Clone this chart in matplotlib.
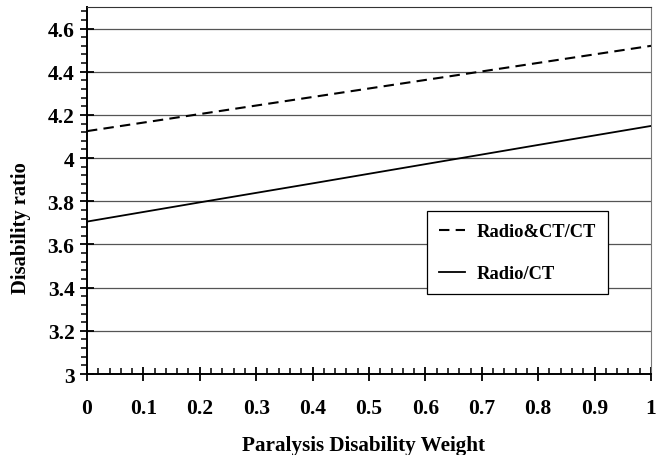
import matplotlib.pyplot as plt
from matplotlib.ticker import MultipleLocator

# Dados
weight = [0.0, 0.2, 0.4, 0.6, 0.8, 1.0]
radio_ct_ct = [4.125, 4.204, 4.283, 4.362, 4.441, 4.52]
radio_ct = [3.706, 3.795, 3.883, 3.972, 4.061, 4.149]

x_ticks = [0, 0.1, 0.2, 0.3, 0.4, 0.5, 0.6, 0.7, 0.8, 0.9, 1]
x_labels = ['0', '0.1', '0.2', '0.3', '0.4', '0.5', '0.6', '0.7', '0.8', '0.9', '1']
y_ticks = [3, 3.2, 3.4, 3.6, 3.8, 4, 4.2, 4.4, 4.6]
y_labels = ['3', '3.2', '3.4', '3.6', '3.8', '4', '4.2', '4.4', '4.6']

plt.rcParams['font.family'] = ['Liberation Serif', 'DejaVu Serif']
plt.rcParams['font.weight'] = 'bold'

fig = plt.figure(figsize=(6.67, 4.56), dpi=100)
ax = fig.add_axes([0.1304, 0.1776, 0.8456, 0.8049])

for y in y_ticks[1:]:
    ax.axhline(y, color='#555555', lw=0.9, zorder=1)

ax.plot(weight, radio_ct_ct, color='black', lw=1.5, ls=(0, (5, 3)), label='Radio&CT/CT', zorder=3)
ax.plot(weight, radio_ct, color='black', lw=1.3, label='Radio/CT', zorder=3)

ax.set_xlim(0, 1)
ax.set_ylim(3, 4.7)
ax.set_xticks(x_ticks)
ax.set_xticklabels(x_labels)
ax.set_yticks(y_ticks)
ax.set_yticklabels(y_labels)
ax.xaxis.set_minor_locator(MultipleLocator(0.02))
ax.yaxis.set_minor_locator(MultipleLocator(0.04))

ax.tick_params(axis='x', which='major', direction='inout', length=10, width=1.3, labelsize=15.5, pad=12)
ax.tick_params(axis='x', which='minor', direction='in', length=4, width=1.1)
ax.tick_params(axis='y', which='major', direction='inout', length=10, width=1.3, labelsize=15.5, pad=4)
ax.tick_params(axis='y', which='minor', direction='out', length=4, width=1.1)

ax.spines['left'].set_linewidth(1.4)
ax.spines['bottom'].set_linewidth(1.4)
ax.spines['top'].set_color('#333333')
ax.spines['right'].set_color('#777777')

ax.set_xlabel('Paralysis Disability Weight', fontsize=15.2, fontweight='bold')
ax.set_ylabel('Disability ratio', fontsize=14.8, fontweight='bold')
ax.xaxis.set_label_coords(0.49, -0.165)
ax.yaxis.set_label_coords(-0.1, 0.40)

leg = ax.legend(loc='upper left', bbox_to_anchor=(0.603, 0.444), borderaxespad=0,
                fontsize=13.3, frameon=True, fancybox=False, edgecolor='black', framealpha=1,
                handlelength=1.4, borderpad=0.65, labelspacing=1.35, handletextpad=0.65)
leg.get_frame().set_linewidth(0.9)
for t in leg.get_texts():
    t.set_fontweight('bold')

plt.savefig('out.png', dpi=100)
